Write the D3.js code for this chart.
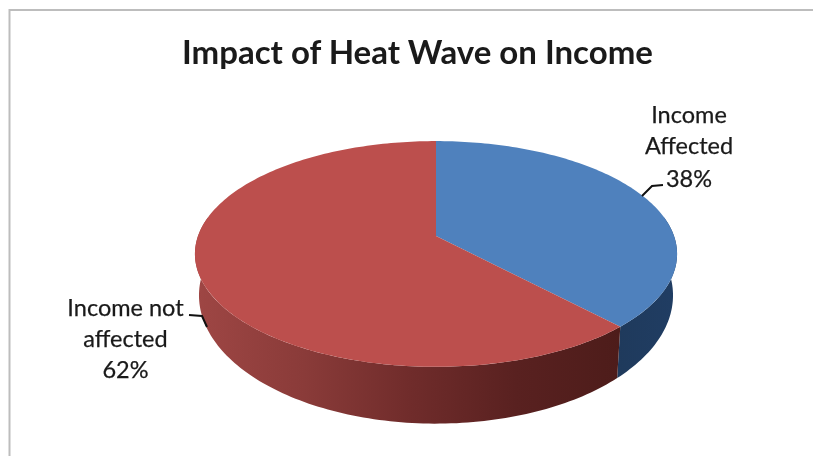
<!DOCTYPE html>
<html>
<head>
<meta charset="utf-8">
<title>Impact of Heat Wave on Income</title>
<script src="https://cdn.jsdelivr.net/npm/d3@7"></script>
<style>
    html, body { margin: 0; padding: 0; background: #fff; }
    svg { display: block; filter: blur(0.45px); }
    text { font-family: Lato, "Open Sans", sans-serif; fill: #1a1a1a; }
    text.label { stroke: #1a1a1a; stroke-width: 0.25px; }
</style>
</head>
<body>
<div id="chart"></div>
<script>
//chart values
const categories = ['Income Affected', 'Income not affected'];
const values = [38, 62];
const labelLines = [['Income', 'Affected', '38%'], ['Income not', 'affected', '62%']];
const titleText = 'Impact of Heat Wave on Income';

const width = 813, height = 456;
const topColors = ['#4f81bd', '#bc4f4d'];

const svg = d3.select('#chart').append('svg')
    .attr('width', width)
    .attr('height', height);

//gradients for the side wall of the pie
const defs = svg.append('defs');
function addGradient(id, x1, x2, stops) {
    const g = defs.append('linearGradient')
        .attr('id', id)
        .attr('gradientUnits', 'userSpaceOnUse')
        .attr('x1', x1).attr('x2', x2)
        .attr('y1', 0).attr('y2', 0);
    stops.forEach(s => g.append('stop').attr('offset', s[0]).attr('stop-color', s[1]));
}
addGradient('sideBlue', 618, 677, [[0, '#1f3a5c'], [1, '#203d63']]);
addGradient('sideRed', 198, 622, [[0, '#9e4644'], [0.25, '#8a3b39'], [0.5, '#702c2b'], [0.75, '#592120'], [1, '#4d1c1a']]);
const sideFills = ['url(#sideBlue)', 'url(#sideRed)'];

//chart frame: only the top and left edges are inside the picture
svg.append('path')
    .attr('d', d3.line()([[9.5, height], [9.5, 10], [width, 10]]))
    .attr('fill', 'none')
    .attr('stroke', '#bdbdbd')
    .attr('stroke-width', 2);

//title
svg.append('text')
    .attr('x', 417.5)
    .attr('y', 64)
    .attr('text-anchor', 'middle')
    .attr('font-size', 33)
    .attr('font-weight', 700)
    .text(titleText);

//perspective projection of a pie angle onto the top and bottom discs
const cx = 436;
const topDisc = { r: 238, s: 110, y0: 236, k: 0.159 };
const bottomDisc = { r: 234, s: 125, y0: 275, k: 0.159 };
function project(disc, angle) {
    const u = Math.sin(angle), v = -Math.cos(angle);
    const w = 1 - disc.k * v;
    return [cx + disc.r * u / w, disc.y0 + disc.s * v / w];
}
function arcPoints(disc, a0, a1) {
    const n = Math.max(2, Math.ceil(Math.abs(a1 - a0) / 0.02));
    return d3.range(n + 1).map(i => project(disc, a0 + (a1 - a0) * i / n));
}

//slices start at twelve o'clock and run clockwise, in data order
const pie = d3.pie().sort(null).value(d => d);
const slices = pie(values);
const line = d3.line();
const rad = d => d * Math.PI / 180;

//only the front of the wall is visible, roughly 80deg to 280deg
const wallStart = rad(80), wallEnd = rad(280);
slices.forEach(function(s, i) {
    const a0 = Math.max(s.startAngle, wallStart);
    const a1 = Math.min(s.endAngle, wallEnd);
    const pts = arcPoints(topDisc, a0, a1).concat(arcPoints(bottomDisc, a1, a0));
    svg.append('path')
        .attr('class', 'side')
        .attr('d', line(pts) + 'Z')
        .attr('fill', sideFills[i]);
});

//top face of each slice
slices.forEach(function(s, i) {
    const pts = [[cx, topDisc.y0]].concat(arcPoints(topDisc, s.startAngle, s.endAngle));
    svg.append('path')
        .attr('class', 'slice')
        .attr('d', line(pts) + 'Z')
        .attr('fill', topColors[i]);
});

//leader lines
const leaders = [
    [[642, 196], [652, 186], [663, 185]],
    [[189, 315], [202, 316], [207, 327]]
];
leaders.forEach(function(pts) {
    svg.append('path')
        .attr('d', line(pts))
        .attr('fill', 'none')
        .attr('stroke', '#111')
        .attr('stroke-width', 2);
});

//data labels, one line per row
const labelPos = [
    { x: 689, y: [123, 154, 187] },
    { x: 125.5, y: [316, 347, 378] }
];
labelLines.forEach(function(rows, i) {
    rows.forEach(function(row, j) {
        svg.append('text')
            .attr('class', 'label')
            .attr('x', labelPos[i].x)
            .attr('y', labelPos[i].y[j])
            .attr('text-anchor', 'middle')
            .attr('font-size', 23.5)
            .text(row);
    });
});
</script>
</body>
</html>
